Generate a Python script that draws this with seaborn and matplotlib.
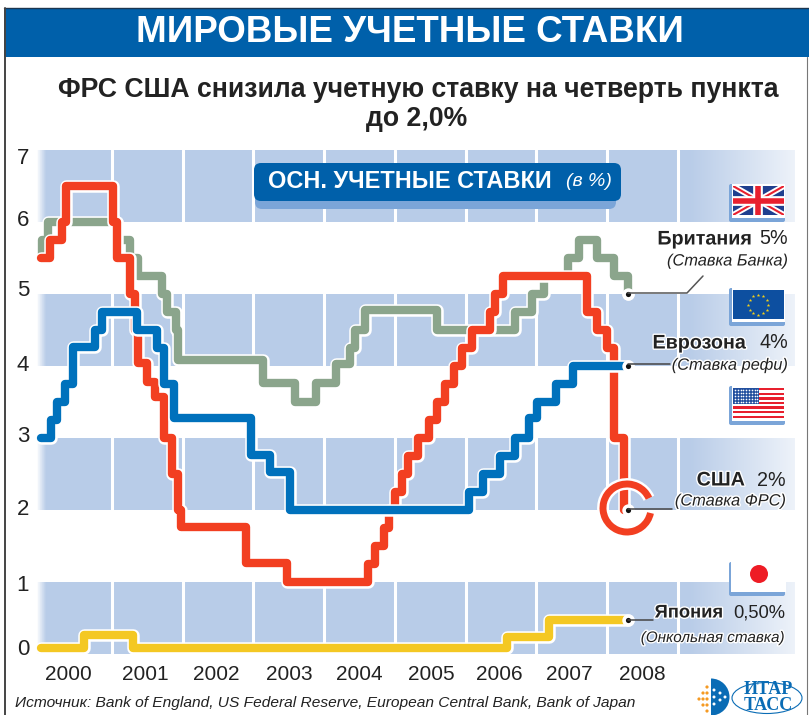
"""
World discount rates, ITAR-TASS infographic
"""

import numpy as np
import pandas as pd
import matplotlib
matplotlib.use("Agg")
import matplotlib.pyplot as plt
import matplotlib.patheffects as pe
from matplotlib.patches import Rectangle, FancyBboxPatch, Arc, Circle, Ellipse, Wedge
import seaborn as sns

# step start (decimal year) and level after that step; last entry closes the line
uk_year = [2000.0, 2000.01, 2000.1, 2001.07, 2001.26, 2001.37, 2001.71, 2001.78, 2001.9, 2001.94,
           2003.14, 2003.59, 2003.88, 2004.16, 2004.37, 2004.44, 2004.58, 2005.6, 2006.7, 2006.94,
           2007.1, 2007.44, 2007.6, 2007.86, 2008.09, 2008.29, 2008.3]
uk_rate = [5.5, 5.75, 6.0, 5.75, 5.5, 5.25, 5.0, 4.75, 4.5, 4.08,
           3.77, 3.5, 3.77, 4.03, 4.25, 4.5, 4.78, 4.5, 4.75, 5.0,
           5.25, 5.5, 5.75, 5.5, 5.25, 5.0, 5.0]

us_year = [2000.0, 2000.12, 2000.29, 2000.35, 2001.02, 2001.07, 2001.26, 2001.33, 2001.37, 2001.5,
           2001.61, 2001.73, 2001.85, 2001.93, 2001.97, 2002.9, 2003.48, 2004.62, 2004.72, 2004.84,
           2004.91, 2005.0, 2005.1, 2005.19, 2005.32, 2005.48, 2005.6, 2005.71, 2005.83, 2005.95,
           2006.09, 2006.34, 2006.42, 2006.52, 2007.72, 2007.86, 2008.0, 2008.09, 2008.23, 2008.3]
us_rate = [5.5, 5.75, 6.0, 6.5, 6.0, 5.5, 5.0, 4.5, 4.04, 3.78,
           3.57, 3.0, 2.5, 2.0, 1.77, 1.27, 1.0, 1.25, 1.5, 1.75,
           2.0, 2.25, 2.5, 2.75, 3.0, 3.25, 3.5, 3.75, 4.0, 4.25,
           4.5, 4.75, 5.0, 5.25, 4.75, 4.5, 4.25, 3.0, 2.0, 2.0]

eu_year = [2000.0, 2000.14, 2000.22, 2000.34, 2000.45, 2000.76, 2000.86, 2001.36, 2001.64, 2001.73,
           2001.87, 2002.96, 2003.24, 2003.52, 2006.04, 2006.25, 2006.49, 2006.7, 2006.89, 2007.01,
           2007.27, 2007.51, 2008.29]
eu_rate = [3.0, 3.25, 3.5, 3.75, 4.27, 4.5, 4.75, 4.5, 4.25, 3.75,
           3.28, 2.76, 2.53, 2.0, 2.25, 2.5, 2.75, 3.0, 3.28, 3.5,
           3.75, 4.0, 4.0]

jp_year = [2000.0, 2000.6, 2001.29, 2006.59, 2007.17, 2008.29]
jp_rate = [0.08, 0.26, 0.08, 0.24, 0.47, 0.47]

band_low = [0, 2, 4, 6]
year_lines = [2001, 2002, 2003, 2004, 2005, 2006, 2007, 2008, 2009]
year_ticks = [2000.39, 2001.47, 2002.47, 2003.5, 2004.49, 2005.52, 2006.47, 2007.46, 2008.5]
year_labels = ["2000", "2001", "2002", "2003", "2004", "2005", "2006", "2007", "2008"]
rate_ticks = [6.92, 6.06, 5.08, 4.04, 3.06, 2.04, 0.99, 0.1]
rate_labels = ["7", "6", "5", "4", "3", "2", "1", "0"]

BLUE = "#0060aa"
SHADOW = "#7ba5d8"
BAND = "#b8cce8"
INK = "#222222"
SANS = "Liberation Sans"
colors = {"uk": "#8ba58c", "us": "#f23f21", "eu": "#0071bc", "jp": "#f4c823"}

sns.set_theme(style="white")
plt.rcParams["font.family"] = [SANS, "DejaVu Sans"]

frames = []
for key, xs, ys in [("uk", uk_year, uk_rate), ("us", us_year, us_rate),
                    ("eu", eu_year, eu_rate), ("jp", jp_year, jp_rate)]:
    frames.append(pd.DataFrame({"country": key, "year": xs, "rate": ys}))
df = pd.concat(frames, ignore_index=True)

fig = plt.figure(figsize=(8.09, 7.15), dpi=100)
ax = fig.add_axes([36 / 809, 61 / 715, 759 / 809, 504 / 715])
ax.set_xlim(1999.926, 2010.654)
ax.set_ylim(0, 7)

# background bands, faded at both ends
for low in band_low:
    ax.axhspan(low, low + 1, color=BAND, lw=0, zorder=1)
fade = np.ones((1, 400, 4))
fade[..., 3] = np.interp(np.linspace(0, 1, 400), [0, 0.012, 0.86, 1.0], [1, 0, 0, 0.75])
ax.imshow(fade, extent=[1999.926, 2010.654, 0, 7], aspect="auto", zorder=1.5)
for y in year_lines:
    ax.axvline(y, color="white", lw=2.2, zorder=2)

sns.lineplot(data=df, x="year", y="rate", hue="country", hue_order=["uk", "us", "eu", "jp"],
             palette=colors, drawstyle="steps-post", estimator=None, sort=False,
             linewidth=6.0, legend=False, ax=ax, zorder=3)
for line in ax.get_lines()[-4:]:
    line.set_solid_capstyle("round")
    line.set_solid_joinstyle("round")
    line.set_path_effects([pe.Stroke(linewidth=9.0, foreground="white"), pe.Normal()])

# end points of the series
ends = df.groupby("country", sort=False).last().reset_index()
sns.scatterplot(data=ends, x="year", y="rate", s=80, color="white", linewidth=0, legend=False, ax=ax, zorder=6)
sns.scatterplot(data=ends, x="year", y="rate", s=14, color="#111111", linewidth=0, legend=False, ax=ax, zorder=7)

ax.set_xticks(year_ticks, year_labels)
ax.set_yticks(rate_ticks, rate_labels)
ax.tick_params(axis="x", length=0, pad=8, labelsize=15, labelcolor=INK)
ax.tick_params(axis="y", length=0, pad=5, labelsize=16, labelcolor=INK)
ax.set_xlabel("")
ax.set_ylabel("")
sns.despine(ax=ax, left=True, bottom=True)

# overlay in pixel coordinates for the furniture
ov = fig.add_axes([0, 0, 1, 1], zorder=10)
ov.set_xlim(0, 809)
ov.set_ylim(715, 0)
ov.axis("off")

ov.add_patch(Rectangle((4, 8), 805, 49, color=BLUE, lw=0))
ov.plot([4, 809], [7.5, 7.5], color="#1b3550", lw=1)
ov.plot([5, 5], [8, 715], color="#444444", lw=1.4)
ov.plot([807.5, 807.5], [57, 715], color="#777777", lw=0.8)
ov.text(409.5, 33, "МИРОВЫЕ УЧЕТНЫЕ СТАВКИ", color="white", weight="bold",
        fontsize=26.5, ha="center", va="center")
ov.text(418, 90, "ФРС США снизила учетную ставку на четверть пункта", color=INK, weight="bold",
        fontsize=19.2, ha="center", va="center")
ov.text(417, 119, "до 2,0%", color=INK, weight="bold", fontsize=19.2, ha="center", va="center")

# panel heading
ov.add_patch(FancyBboxPatch((255, 171), 361, 38, boxstyle="round,pad=0,rounding_size=7", fc=SHADOW, lw=0))
ov.add_patch(FancyBboxPatch((254, 163), 367, 38, boxstyle="round,pad=0,rounding_size=7", fc=BLUE, lw=0))
ov.text(268, 181, "ОСН. УЧЕТНЫЕ СТАВКИ", color="white", weight="bold",
        fontsize=16.9, ha="left", va="center")
ov.text(612, 181, "(в %)", color="white", style="italic", fontsize=14, ha="right", va="center")


def flag_base(y0, y1):
    ov.add_patch(FancyBboxPatch((729, y0 - 2), 56, y1 - y0 + 9, boxstyle="round,pad=0,rounding_size=2",
                                fc=SHADOW, lw=0))
    ov.add_patch(Rectangle((732, y0 - 2), 53, y1 - y0 + 5, fc="white", lw=0))


# Britain
flag_base(186, 215)
box = Rectangle((733, 186), 51, 29, fc="#1f3f8f", lw=0)
ov.add_patch(box)
for a, b, w, c in [((733, 186), (784, 215), 4.2, "white"), ((733, 215), (784, 186), 4.2, "white"),
                   ((733, 186), (784, 215), 1.5, "#e8202e"), ((733, 215), (784, 186), 1.5, "#e8202e"),
                   ((758.5, 186), (758.5, 215), 7, "white"), ((733, 200.5), (784, 200.5), 7, "white"),
                   ((758.5, 186), (758.5, 215), 4, "#e8202e"), ((733, 200.5), (784, 200.5), 4, "#e8202e")]:
    seg, = ov.plot([a[0], b[0]], [a[1], b[1]], color=c, lw=w, solid_capstyle="butt")
    seg.set_clip_path(box)

# Eurozone
flag_base(290, 319)
ov.add_patch(Rectangle((733, 290), 51, 29, fc="#0d4fa0", lw=0))
star_a = np.linspace(0, 2 * np.pi, 12, endpoint=False)
ov.scatter(758.5 + 10 * np.cos(star_a), 304.5 + 10 * np.sin(star_a), marker="*", s=7, color="#f7d117", linewidth=0)

# USA
flag_base(388, 418)
ov.add_patch(Rectangle((733, 388), 51, 30, fc="white", lw=0))
for i in range(7):
    ov.add_patch(Rectangle((733, 388 + i * 30 / 6.5), 51, 30 / 13, fc="#e8202e", lw=0))
ov.add_patch(Rectangle((733, 388), 26, 16, fc="#23509f", lw=0))
for i in range(9):
    for j in range(5):
        ov.scatter(735 + i * 2.8, 390 + j * 3.0, s=1.4, color="white", linewidth=0)

# Japan
ov.add_patch(FancyBboxPatch((729, 562), 56, 34, boxstyle="round,pad=0,rounding_size=2", fc=SHADOW, lw=0))
ov.add_patch(Rectangle((731, 560), 55, 32, fc="white", lw=0))
ov.add_patch(Circle((759, 574), 9, fc="#ee1c25", lw=0))

# callouts
ov.plot([628, 687, 703], [293, 293, 276], color="#555555", lw=1.1)
ov.plot([628, 670], [364, 364], color="#444444", lw=1.1)
ov.plot([628, 653], [620, 620], color="#444444", lw=1.1)
ov.add_patch(Arc((627, 508), 48, 48, theta1=12, theta2=336, ec="white", lw=8.5))
ov.add_patch(Arc((627, 508), 48, 48, theta1=12, theta2=336, ec=colors["us"], lw=5))
ov.plot([628, 672], [509, 509], color="#444444", lw=1.1)


def country_label(name, name_right, value, y, note, note_y, right=788, scale=1.0):
    ov.text(name_right, y, name, color=INK, weight="bold", fontsize=14.2 * scale, ha="right", va="center",
            path_effects=[pe.withStroke(linewidth=2, foreground="white")])
    ov.text(right, y, value, color=INK, fontsize=14.2 * scale, ha="right", va="center")
    ov.text(right, note_y, note, color=INK, style="italic", fontsize=11.8 * scale, ha="right", va="center",
            path_effects=[pe.withStroke(linewidth=2, foreground="white")])


country_label("Британия", 752, "5%", 239, "(Ставка Банка)", 261)
country_label("Еврозона", 746, "4%", 343, "(Ставка рефи)", 365)
country_label("США", 745, "2%", 480, "(Ставка ФРС)", 501, right=786)
country_label("Япония", 723, "0,50%", 613, "(Онкольная ставка)", 638, right=785, scale=0.93)

ov.text(15, 703, "Источник: Bank of England, US Federal Reserve, European Central Bank, Bank of Japan",
        color=INK, style="italic", fontsize=11.15, ha="left", va="center")

# agency logo
for dx, dy in [(699, 699), (703, 693), (703, 699), (703, 705), (707, 687), (707, 693), (707, 699), (707, 705), (707, 711)]:
    ov.add_patch(Circle((dx, dy), 1.6, fc="#f59a23", lw=0))
ov.add_patch(Wedge((711, 697), 18.5, -90, 90, fc="#0a6cb5", lw=0))
for dx, dy in [(714, 690), (714, 697), (714, 704), (720, 693), (720, 700), (725, 697)]:
    ov.add_patch(Circle((dx, dy), 1.5, fc="white", lw=0))
ov.add_patch(Ellipse((767, 698), 70, 31, fc="white", ec="#0a6cb5", lw=0.8))
ov.text(768, 690, "ИТАР", color="#0a6cb5", family="Liberation Serif", weight="bold", fontsize=13,
        ha="center", va="center")
ov.text(768, 706, "ТАСС", color="#0a6cb5", family="Liberation Serif", weight="bold", fontsize=13,
        ha="center", va="center")

fig.savefig("out.png", dpi=100)
